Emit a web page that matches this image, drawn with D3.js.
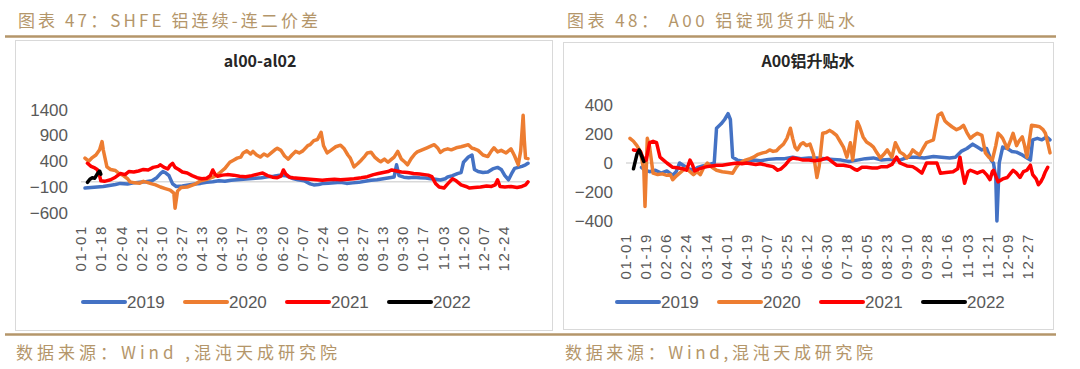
<!DOCTYPE html>
<html>
<head>
<meta charset="utf-8">
<script src="https://cdn.jsdelivr.net/npm/d3@7"></script>
<style>
  body { margin: 0; background: #fff; }
  svg { display: block; }
</style>
</head>
<body>
<div id="chart"></div>
<script>
// legend / series names
var years = ["2019", "2020", "2021", "2022"];
var colors = ["#4472C4", "#ED7D31", "#FF0000", "#000000"];

// x tick labels of each chart
var ticksLeft = ["01-01", "01-18", "02-04", "02-21", "03-10", "03-27", "04-13", "04-30", "05-17", "06-03", "06-20",
    "07-07", "07-24", "08-10", "08-27", "09-13", "09-30", "10-17", "11-03", "11-20", "12-07", "12-24"];
var ticksRight = ["01-01", "01-19", "02-06", "02-24", "03-14", "04-01", "04-19", "05-07", "05-25", "06-12", "06-30",
    "07-18", "08-05", "08-23", "09-10", "09-28", "10-16", "11-03", "11-21", "12-09", "12-27"];
var yTicksLeft = [-600, -100, 400, 900, 1400];
var yTicksRight = [-400, -200, 0, 200, 400];

// al00-al02 spread, [day of year (0 = 01-01), value]
var spread2019 = [[0,-120],[5,-110],[10,-100],[15,-90],[20,-70],[25,-50],[29,-30],[35,-40],[40,-20],[45,-10],[50,0],[55,20],
    [59,80],[62,160],[64,200],[66,180],[69,120],[72,-40],[75,-90],[80,-80],[85,-60],[90,-40],[95,-30],[100,-10],[105,0],
    [110,20],[115,10],[120,30],[125,40],[130,50],[135,60],[140,70],[145,80],[150,100],[155,110],[160,130],[165,120],
    [170,70],[175,40],[180,20],[185,-40],[188,-60],[192,-50],[196,-30],[200,-25],[205,-20],[210,-10],[215,-30],[220,-20],
    [225,-10],[230,10],[235,30],[240,40],[245,60],[250,80],[254,95],[256,330],[258,120],[262,90],[266,80],[270,90],
    [275,80],[280,75],[284,60],[288,50],[292,35],[296,60],[298,95],[302,120],[306,160],[309,180],[311,380],[315,480],
    [318,520],[320,240],[323,200],[327,180],[331,190],[335,250],[339,280],[342,240],[345,120],[348,40],[351,180],
    [353,260],[356,280],[359,300],[362,330],[364,360]];
var spread2020 = [[0,460],[3,400],[6,470],[9,520],[12,620],[14,780],[15,620],[17,400],[18,290],[21,240],[25,220],[28,160],
    [31,130],[35,60],[37,0],[41,-20],[45,-25],[48,10],[51,-10],[55,-40],[58,-60],[62,-100],[66,-130],[70,-160],[73,-220],
    [74,-510],[76,-180],[79,-110],[84,-100],[90,-50],[95,20],[100,50],[105,90],[109,140],[112,200],[115,260],[119,380],
    [122,420],[125,460],[128,480],[130,560],[133,600],[136,540],[138,590],[141,520],[144,480],[147,540],[150,500],
    [153,560],[156,620],[158,650],[161,610],[164,500],[167,440],[170,520],[173,590],[176,560],[179,600],[183,700],
    [185,720],[188,800],[191,820],[194,960],[196,700],[199,560],[202,610],[206,680],[210,710],[213,640],[216,520],
    [218,460],[221,290],[224,350],[227,420],[230,500],[232,560],[235,575],[238,480],[241,420],[243,390],[246,440],
    [249,380],[251,420],[254,480],[257,590],[260,440],[263,380],[265,330],[268,450],[271,540],[273,580],[277,620],
    [281,660],[285,700],[287,720],[290,650],[292,570],[295,620],[298,640],[301,620],[305,660],[309,680],[312,700],
    [315,720],[318,650],[320,640],[323,610],[327,520],[331,490],[334,600],[336,660],[339,580],[342,610],[346,560],
    [350,640],[353,500],[356,330],[358,600],[360,1290],[361,800],[362,460],[364,450]];
var spread2021 = [[2,360],[5,300],[8,270],[10,240],[12,120],[13,20],[16,10],[21,40],[25,90],[29,160],[33,140],[36,200],
    [40,190],[44,210],[48,240],[52,230],[56,280],[60,300],[62,330],[65,280],[68,250],[70,320],[72,360],[74,280],[77,240],
    [80,190],[84,170],[88,120],[92,80],[96,60],[100,70],[103,120],[105,230],[107,140],[109,110],[113,130],[117,140],
    [122,130],[127,110],[132,100],[137,120],[142,150],[146,170],[150,120],[154,90],[158,80],[161,110],[163,230],[165,150],
    [168,90],[171,80],[175,70],[180,60],[185,50],[190,40],[195,30],[199,40],[205,50],[210,40],[216,50],[221,60],[227,80],
    [232,100],[237,140],[241,160],[245,180],[249,200],[252,230],[256,210],[260,190],[265,180],[270,160],[275,150],
    [279,140],[282,130],[285,100],[288,-30],[291,-100],[295,-120],[298,-40],[302,60],[305,20],[309,-60],[313,-90],
    [316,-120],[320,-110],[325,-100],[330,-80],[334,-90],[337,-60],[339,40],[341,-90],[345,-100],[350,-90],[355,-110],
    [359,-90],[362,-60],[364,0]];
var spread2022 = [[2,-10],[4,50],[6,80],[8,70],[10,150],[12,210],[13,150]];

// A00 premium / discount, [day of year, value]
var premium2019 = [[10,-30],[13,-50],[17,-60],[22,-50],[27,-70],[32,-55],[37,-85],[40,-60],[43,0],[47,-20],[51,-40],
    [55,-50],[59,-30],[63,-20],[67,-15],[71,-5],[73,0],[75,240],[79,270],[82,300],[85,340],[87,300],[89,40],[93,20],
    [100,10],[107,20],[113,15],[120,25],[127,30],[134,30],[141,40],[148,30],[155,35],[162,35],[169,30],[176,25],[183,20],
    [190,10],[197,20],[204,30],[211,35],[218,20],[225,25],[234,20],[241,40],[248,40],[255,35],[263,45],[270,40],[277,35],
    [282,40],[287,80],[292,100],[297,130],[301,110],[305,90],[309,100],[313,20],[315,0],[317,-100],[318,-400],[320,0],
    [323,110],[327,100],[331,80],[335,75],[339,60],[343,40],[347,20],[349,160],[353,170],[357,160],[361,180],[364,160]];
var premium2020 = [[0,170],[3,150],[6,120],[9,80],[12,-50],[13,-300],[15,170],[17,110],[20,-70],[24,-80],[28,-75],[32,-85],
    [35,-80],[37,-115],[40,-90],[43,-70],[46,-50],[49,-35],[52,-60],[55,-80],[58,-60],[61,-80],[64,-30],[67,0],[71,-30],
    [75,-50],[80,-60],[85,-65],[89,-70],[92,-30],[95,0],[100,20],[104,30],[107,40],[111,60],[115,70],[118,75],[121,90],
    [124,80],[127,85],[130,110],[133,130],[136,170],[139,240],[141,170],[143,110],[145,90],[148,130],[150,140],[153,120],
    [156,130],[159,60],[162,-100],[164,-20],[167,205],[170,210],[173,225],[176,210],[179,190],[182,150],[185,110],
    [188,40],[191,140],[193,20],[197,285],[199,250],[202,180],[205,145],[208,130],[211,110],[214,70],[217,35],[220,60],
    [223,90],[227,40],[230,140],[234,75],[237,60],[240,35],[243,60],[245,90],[248,70],[251,55],[254,100],[257,140],
    [260,150],[263,160],[267,330],[270,345],[273,290],[275,275],[279,250],[283,230],[286,240],[289,260],[292,210],
    [295,170],[298,190],[301,205],[305,190],[308,70],[311,40],[314,20],[317,120],[319,205],[321,190],[323,170],[327,100],
    [330,160],[332,205],[335,120],[337,150],[340,180],[342,120],[344,40],[346,150],[348,260],[352,255],[355,250],
    [358,230],[360,205],[362,140],[364,70]];
var premium2021 = [[3,90],[7,85],[9,80],[11,40],[14,20],[17,140],[20,150],[23,140],[26,40],[29,20],[32,0],[37,-30],[42,-35],
    [46,-40],[49,-50],[52,20],[54,-10],[56,-55],[60,-40],[64,-30],[67,-25],[71,-20],[75,-15],[80,-15],[84,-10],[88,-5],
    [93,0],[97,-5],[101,0],[105,-5],[109,-10],[113,-5],[118,-15],[124,-25],[128,-50],[131,-40],[135,-10],[138,20],
    [141,35],[145,30],[150,20],[155,20],[160,15],[165,20],[171,35],[175,10],[179,-15],[185,-15],[191,-25],[195,-45],
    [197,-50],[201,-30],[205,-30],[210,-35],[214,-35],[218,-25],[223,-25],[227,-10],[231,40],[234,0],[240,-20],[245,-25],
    [249,-45],[253,-70],[257,0],[262,0],[266,0],[269,-70],[274,-65],[280,-60],[284,-40],[286,40],[288,-60],[290,-140],
    [293,-60],[295,-50],[298,-60],[301,-70],[304,-60],[306,-55],[309,-80],[312,-115],[314,-60],[315,-50],[317,-90],
    [319,-130],[323,-110],[327,-100],[330,-70],[332,-50],[335,-70],[338,-100],[341,-60],[344,-50],[347,-15],[349,-80],
    [352,-110],[354,-150],[356,-130],[358,-100],[360,-60],[362,-30]];
var premium2022 = [[3,-40],[6,60],[8,90],[10,50],[12,10]];

var W = 1080, H = 369;
var tan = "#b4966a";
var gray = "#595959";
var jan1 = new Date(2019, 0, 1);
var dec31 = d3.timeDay.offset(jan1, 364);
var parseMD = d3.timeParse("%Y-%m-%d");

var svg = d3.select("#chart").append("svg")
    .attr("width", W)
    .attr("height", H);

// header and footer rules
svg.append("line").attr("x1", 5).attr("x2", 1056).attr("y1", 36.5).attr("y2", 36.5)
    .attr("stroke", tan).attr("stroke-width", 2.5);
svg.append("line").attr("x1", 5).attr("x2", 1056).attr("y1", 334.5).attr("y2", 334.5)
    .attr("stroke", tan).attr("stroke-width", 2.5);

function caption(x, y, str, len) {
    svg.append("text")
        .attr("x", x).attr("y", y)
        .attr("textLength", len).attr("lengthAdjust", "spacing")
        .style("font-family", "'Noto Sans CJK SC', sans-serif")
        .style("font-size", "17px")
        .style("fill", tan)
        .text(str);
}
caption(18, 27, "图表 47：SHFE 铝连续-连二价差", 300);
caption(567, 27, "图表 48： A00 铝锭现货升贴水", 288);
caption(16, 359, "数据来源：Wind ,混沌天成研究院", 321);
caption(565, 359, "数据来源：Wind,混沌天成研究院", 308);

function drawPanel(opt) {
    var g = svg.append("g");

    // chart frame
    g.append("rect")
        .attr("x", opt.box[0] + 0.5).attr("y", opt.box[1] + 0.5)
        .attr("width", opt.box[2] - opt.box[0]).attr("height", opt.box[3] - opt.box[1])
        .attr("fill", "#fff").attr("stroke", "#d9d9d9");

    g.append("text")
        .attr("x", opt.titleX).attr("y", 67)
        .attr("text-anchor", "middle")
        .style("font-family", "'Noto Sans CJK SC', 'Liberation Sans', sans-serif")
        .style("font-size", "16px")
        .style("font-weight", "bold")
        .style("fill", "#262626")
        .text(opt.title);

    var x = d3.scaleTime()
        .domain([jan1, dec31])
        .range(opt.xRange);
    // tick labels sit on a slightly narrower span than the lines in the original
    var xLab = d3.scaleTime()
        .domain([jan1, dec31])
        .range(opt.labelRange);
    var y = d3.scaleLinear()
        .domain(opt.yDomain)
        .range(opt.yRange);

    // y axis labels
    var yAxis = d3.axisLeft(y).tickValues(opt.yTicks).tickSize(0).tickPadding(0)
        .tickFormat(d3.format("d"));
    g.append("g")
        .attr("transform", "translate(" + opt.yLabelX + ",0)")
        .call(yAxis)
        .call(function (s) { s.select(".domain").remove(); })
        .selectAll("text")
        .style("font-family", "'Liberation Sans', Arial, sans-serif")
        .style("font-size", "17px")
        .style("fill", gray);

    // zero line
    g.append("line")
        .attr("x1", opt.xRange[0] - 4).attr("x2", opt.xRange[1] + 2)
        .attr("y1", y(0)).attr("y2", y(0))
        .attr("stroke", "#d9d9d9").attr("stroke-width", 1.5);

    // x axis labels, rotated
    g.selectAll(".xlab")
        .data(opt.xTicks)
        .enter()
        .append("text")
        .attr("class", "xlab")
        .attr("transform", function (t) {
            return "translate(" + xLab(parseMD("2019-" + t)) + "," + opt.xLabelY + ") rotate(-90)";
        })
        .attr("dy", "0.35em")
        .attr("text-anchor", "end")
        .style("font-family", "'Liberation Sans', Arial, sans-serif")
        .style("font-size", "15px")
        .style("letter-spacing", "1.6px")
        .style("fill", gray)
        .text(function (t) { return t; });

    var line = d3.line()
        .x(function (d) { return x(d3.timeDay.offset(jan1, d[0])); })
        .y(function (d) { return y(d[1]); });

    opt.series.forEach(function (s, i) {
        g.append("path")
            .datum(s)
            .attr("d", line)
            .attr("fill", "none")
            .attr("stroke", colors[i])
            .attr("stroke-width", 3.5)
            .attr("stroke-linejoin", "round")
            .attr("stroke-linecap", "round");
    });

    // legend
    var leg = g.selectAll(".leg")
        .data(years)
        .enter()
        .append("g")
        .attr("transform", function (d, i) { return "translate(" + (opt.legendX + i * 102) + ",302)"; });
    leg.append("line")
        .attr("x1", 0).attr("x2", 42)
        .attr("stroke", function (d, i) { return colors[i]; })
        .attr("stroke-width", 4)
        .attr("stroke-linecap", "round");
    leg.append("text")
        .attr("x", 44).attr("y", 6)
        .style("font-family", "'Liberation Sans', Arial, sans-serif")
        .style("font-size", "17px")
        .style("fill", gray)
        .text(function (d) { return d; });
}

drawPanel({
    box: [15, 40, 552, 330],
    title: "al00-al02",
    titleX: 260,
    xRange: [85, 528],
    labelRange: [81, 512],
    yDomain: [-600, 1400],
    yRange: [212.8, 109.6],
    yTicks: yTicksLeft,
    yLabelX: 68,
    xTicks: ticksLeft,
    xLabelY: 225,
    legendX: 83,
    series: [spread2019, spread2020, spread2021, spread2022]
});

drawPanel({
    box: [563, 42, 1053, 329],
    title: "A00铝升贴水",
    titleX: 808,
    xRange: [630, 1050],
    labelRange: [626, 1032],
    yDomain: [-400, 400],
    yRange: [221, 105],
    yTicks: yTicksRight,
    yLabelX: 613,
    xTicks: ticksRight,
    xLabelY: 233,
    legendX: 617,
    series: [premium2019, premium2020, premium2021, premium2022]
});
</script>
</body>
</html>
